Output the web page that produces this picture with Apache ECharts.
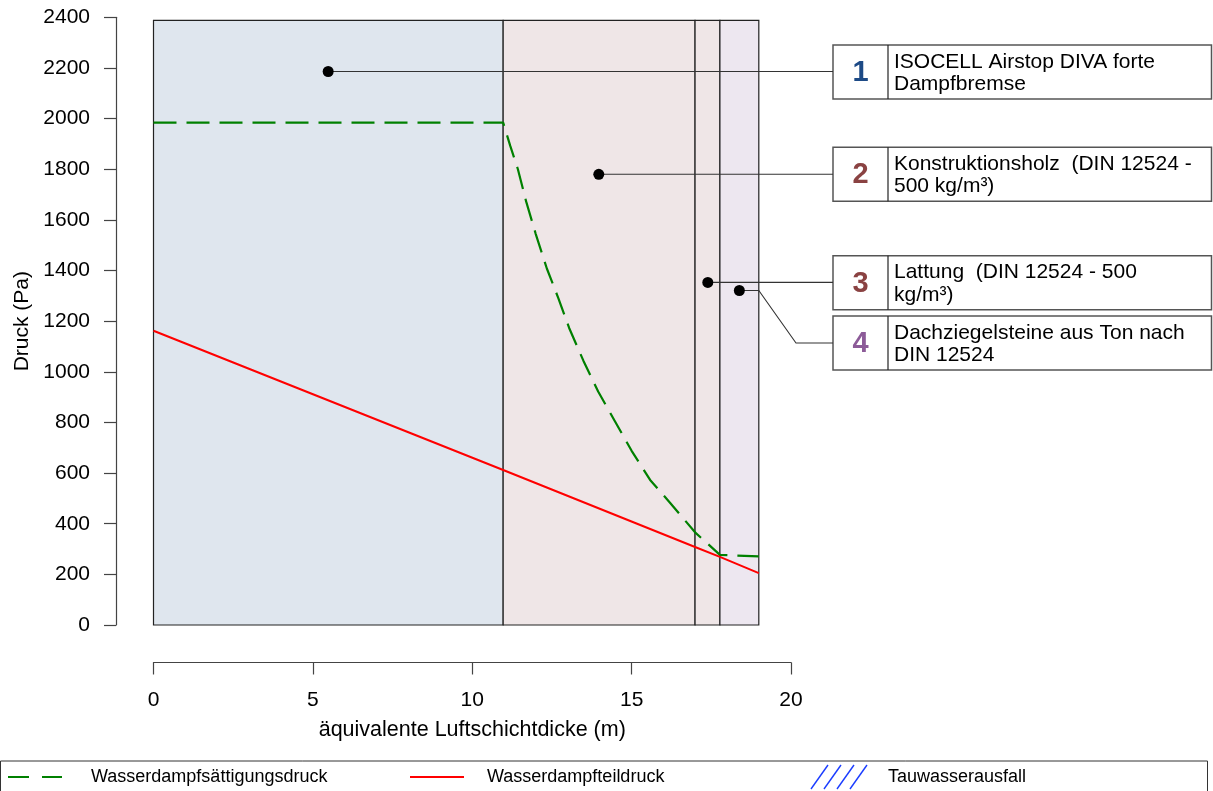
<!DOCTYPE html>
<html>
<head>
<meta charset="utf-8">
<script src="https://cdn.jsdelivr.net/npm/echarts@6/dist/echarts.min.js"></script>
<style>
  html, body { margin: 0; padding: 0; background: #fff; }
  #chart { width: 1213px; height: 791px; }
</style>
</head>
<body>
<div id="chart"></div>
<script>
// Layer boundaries along the equivalent air-layer thickness (m)
const layerEdges = [0, 10.97, 16.99, 17.77, 18.99];
const layerTop = 2388;
const layerFills = ['#dfe6ee', '#efe6e7', '#efe6e7', '#ede7f0'];

// Saturation vapour pressure (Pa)
const satX = [0, 10.97, 11.19, 11.43, 11.69, 11.99, 12.34, 12.70, 13.04, 13.49, 13.95, 14.48, 15.00, 15.58, 16.21, 16.99, 17.77, 18.99];
const satY = [1984, 1984, 1893, 1801, 1673, 1545, 1408, 1291, 1173, 1043, 922, 804, 688, 573, 482, 366, 277, 271];

// Partial vapour pressure (Pa)
const parX = [0, 10.97, 16.99, 17.77, 18.99];
const parY = [1162, 612, 308, 269, 205];

// Layer marker points
const annX = [5.48, 13.97, 17.39, 18.38];
const annY = [2186, 1780, 1353, 1321];

// Layer legend boxes
const boxNumbers = ['1', '2', '3', '4'];
const boxNumberColors = ['#1d4a86', '#8a4242', '#8a4242', '#8c5b98'];
const boxLabels = [
  'ISOCELL Airstop DIVA forte\nDampfbremse',
  'Konstruktionsholz  (DIN 12524 -\n500 kg/m³)',
  'Lattung  (DIN 12524 - 500\nkg/m³)',
  'Dachziegelsteine aus Ton nach\nDIN 12524'
];

// Axis ticks and titles
const xTicks = [0, 5, 10, 15, 20];
const yTicks = [0, 200, 400, 600, 800, 1000, 1200, 1400, 1600, 1800, 2000, 2200, 2400];
const xTitle = 'äquivalente Luftschichtdicke (m)';
const yTitle = 'Druck (Pa)';

// Bottom legend entries
const legendNames = ['Wasserdampfsättigungsdruck', 'Wasserdampfteildruck', 'Tauwasserausfall'];

const FONT = '"Liberation Sans", Arial, sans-serif';
const boxTops = [45, 147.3, 255.7, 316];
const boxH = 54;
const boxLeft = 833, boxDiv = 888, boxRight = 1211.5;

const chart = echarts.init(document.getElementById('chart'), null, { renderer: 'canvas' });

const layerData = layerFills.map((c, i) => [layerEdges[i], layerEdges[i + 1], i]);
const satData = satX.map((x, i) => [x, satY[i]]);
const parData = parX.map((x, i) => [x, parY[i]]);
const annData = annX.map((x, i) => [x, annY[i], i]);

const graphics = [];
boxTops.forEach((top, i) => {
  graphics.push({
    type: 'rect', shape: { x: boxLeft, y: top, width: boxRight - boxLeft, height: boxH },
    style: { fill: '#fff', stroke: '#555', lineWidth: 1.5 }
  });
  graphics.push({
    type: 'line', shape: { x1: boxDiv, y1: top, x2: boxDiv, y2: top + boxH },
    style: { stroke: '#222', lineWidth: 1.2 }
  });
  graphics.push({
    type: 'text',
    style: {
      text: boxNumbers[i], x: (boxLeft + boxDiv) / 2, y: top + boxH / 2 + 1,
      align: 'center', verticalAlign: 'middle',
      font: 'bold 29px ' + FONT, fill: boxNumberColors[i]
    }
  });
  graphics.push({
    type: 'text',
    style: {
      text: boxLabels[i], x: boxDiv + 6, y: top + 5.5,
      align: 'left', verticalAlign: 'top', lineHeight: 22.5,
      font: '21px ' + FONT, fill: '#000'
    }
  });
});

// Bottom legend frame and entries
const legY = 777;
graphics.push({
  type: 'rect', shape: { x: 0.5, y: 761, width: 1207, height: 40 },
  style: { fill: 'none', stroke: '#333', lineWidth: 1 }
});
graphics.push({
  type: 'line', shape: { x1: 8, y1: legY, x2: 62, y2: legY },
  style: { stroke: '#008000', lineWidth: 2.2, lineDash: [21, 13] }
});
graphics.push({
  type: 'text', style: { text: legendNames[0], x: 91, y: legY, verticalAlign: 'middle', font: '18px ' + FONT, fill: '#000' }
});
graphics.push({
  type: 'line', shape: { x1: 410, y1: legY, x2: 464, y2: legY },
  style: { stroke: '#ff0000', lineWidth: 2 }
});
graphics.push({
  type: 'text', style: { text: legendNames[1], x: 487, y: legY, verticalAlign: 'middle', font: '18px ' + FONT, fill: '#000' }
});
for (let k = 0; k < 4; k++) {
  const bx = 811 + 13 * k;
  graphics.push({
    type: 'line', shape: { x1: bx, y1: 789, x2: bx + 17, y2: 765 },
    style: { stroke: '#1a3cff', lineWidth: 1.4 }
  });
}
graphics.push({
  type: 'text', style: { text: legendNames[2], x: 888, y: legY, verticalAlign: 'middle', font: '18px ' + FONT, fill: '#000' }
});

const option = {
  animation: false,
  backgroundColor: '#fff',
  textStyle: { fontFamily: FONT },
  grid: { left: 153.5, top: 17.3, width: 637.5, height: 607.7, containLabel: false },
  xAxis: {
    type: 'value', min: 0, max: 20, interval: 5,
    offset: 37.5,
    name: xTitle, nameLocation: 'middle', nameGap: 57,
    nameTextStyle: { fontSize: 21.5, color: '#000', fontFamily: FONT },
    axisLine: { show: true, onZero: false, lineStyle: { color: '#444', width: 1.2 } },
    axisTick: { show: true, length: 12, lineStyle: { color: '#444', width: 1.2 }, customValues: xTicks },
    axisLabel: { fontSize: 21, color: '#000', margin: 27, fontFamily: FONT, customValues: xTicks },
    splitLine: { show: false }
  },
  yAxis: {
    type: 'value', min: 0, max: 2400, interval: 200,
    offset: 37.5,
    name: yTitle, nameLocation: 'middle', nameGap: 83, nameRotate: 90,
    nameTextStyle: { fontSize: 21, color: '#000', fontFamily: FONT },
    axisLine: { show: true, onZero: false, lineStyle: { color: '#444', width: 1.2 } },
    axisTick: { show: true, length: 12, lineStyle: { color: '#444', width: 1.2 }, customValues: yTicks },
    axisLabel: {
      fontSize: 21, color: '#000', margin: 26, fontFamily: FONT, customValues: yTicks,
      formatter: v => String(v)
    },
    splitLine: { show: false }
  },
  series: [
    {
      type: 'custom', name: 'Schichten', z: 1,
      data: layerData,
      renderItem: function (params, api) {
        const p0 = api.coord([api.value(0), 0]);
        const p1 = api.coord([api.value(1), layerTop]);
        const i = api.value(2);
        return {
          type: 'rect',
          shape: { x: p0[0], y: p1[1], width: p1[0] - p0[0], height: p0[1] - p1[1] },
          style: { fill: layerFills[i], stroke: '#222', lineWidth: 1.2 }
        };
      },
      silent: true
    },
    {
      type: 'custom', name: 'Zuordnung', z: 3, clip: false,
      data: annData,
      renderItem: function (params, api) {
        const p = api.coord([api.value(0), api.value(1)]);
        const i = api.value(2);
        let pts;
        if (i === 3) {
          const edgeX = api.coord([layerEdges[layerEdges.length - 1], 0])[0];
          const by = boxTops[i] + boxH / 2;
          pts = [p, [edgeX, p[1]], [796, by], [boxLeft, by]];
        } else {
          pts = [p, [boxLeft, p[1]]];
        }
        return {
          type: 'polyline', shape: { points: pts },
          style: { stroke: '#333', lineWidth: 1.1, fill: 'none' }
        };
      },
      silent: true
    },
    {
      type: 'line', name: legendNames[0], z: 4,
      data: satData, showSymbol: false, symbol: 'none',
      lineStyle: { color: '#008000', width: 2.2, type: [23, 10] }
    },
    {
      type: 'line', name: legendNames[1], z: 4,
      data: parData, showSymbol: false, symbol: 'none',
      lineStyle: { color: '#ff0000', width: 2 }
    },
    {
      type: 'scatter', name: 'Schichtmarken', z: 5,
      data: annData.map(d => [d[0], d[1]]),
      symbol: 'circle', symbolSize: 11,
      itemStyle: { color: '#000', opacity: 1 }
    }
  ],
  graphic: graphics
};

chart.setOption(option);
</script>
</body>
</html>
